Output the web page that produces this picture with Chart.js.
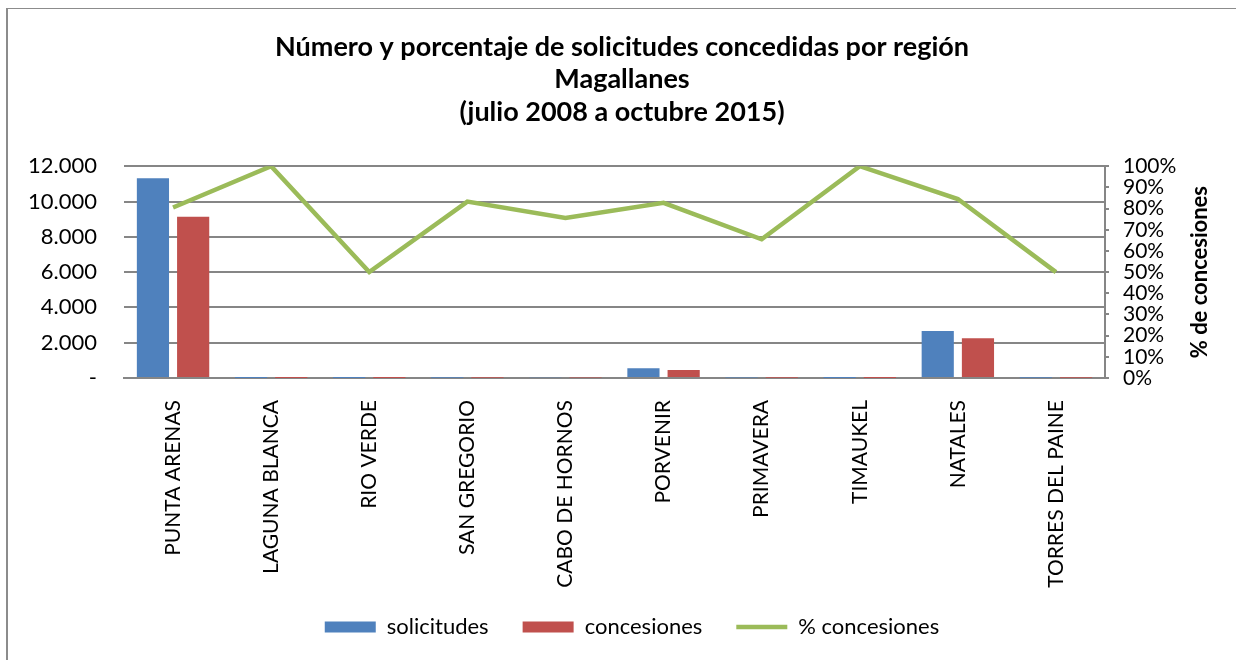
<!DOCTYPE html>
<html>
<head>
<meta charset="utf-8">
<script src="https://cdn.jsdelivr.net/npm/chart.js@4"></script>
<style>
    html, body { margin: 0; padding: 0; background: #fff; }
    #wrap { position: relative; width: 1236px; height: 660px; overflow: hidden; }
    #frame { position: absolute; left: 6px; top: 8px; width: 1300px; height: 700px;
             border-left: 2px solid #8c8c8c; border-top: 1px solid #8c8c8c; pointer-events: none; }
    canvas { position: absolute; left: 0; top: 0; }
</style>
</head>
<body>
<div id="wrap">
    <canvas id="chart" width="1236" height="660"></canvas>
    <div id="frame"></div>
</div>
<script>
const regiones = ['PUNTA ARENAS', 'LAGUNA BLANCA', 'RIO VERDE', 'SAN GREGORIO', 'CABO DE HORNOS',
    'PORVENIR', 'PRIMAVERA', 'TIMAUKEL', 'NATALES', 'TORRES DEL PAINE'];
const solicitudes = [11320, 4, 2, 12, 41, 550, 29, 5, 2660, 20];
const concesiones = [9130, 4, 1, 10, 31, 455, 19, 5, 2250, 10];
const pctConcesiones = [80.5, 100, 50, 83.3, 75.6, 82.7, 65.5, 100, 84.5, 50];

const FONT = 'Lato, "Open Sans", sans-serif';
Chart.defaults.font.family = FONT;
Chart.defaults.color = '#000';

// axis title on the right reads bottom-to-top, Chart.js would rotate it the other way
const rightTitle = {
    id: 'rightTitle',
    afterDraw(chart) {
        const { ctx, chartArea } = chart;
        ctx.save();
        ctx.translate(1200, (chartArea.top + chartArea.bottom) / 2);
        ctx.rotate(-Math.PI / 2);
        ctx.font = 'bold 22px ' + FONT;
        ctx.fillStyle = '#000';
        ctx.textAlign = 'center';
        ctx.textBaseline = 'middle';
        ctx.fillText('% de concesiones', 0, 0);
        ctx.restore();
    }
};

// legend in the original sits a little right of centre and a bit higher
const legendShift = {
    id: 'legendShift',
    afterLayout(chart) {
        chart.legend.left += 10;
        chart.legend.right += 10;
        chart.legend.top -= 8;
        chart.legend.bottom -= 8;
    }
};

function miles(v) {
    if (v === 0) return '-';
    return String(v).replace(/\B(?=(\d{3})+(?!\d))/g, '.');
}

new Chart(document.getElementById('chart').getContext('2d'), {
    data: {
        labels: regiones,
        datasets: [{
            type: 'line',
            label: '% concesiones',
            data: pctConcesiones,
            yAxisID: 'y1',
            borderColor: '#9BBB59',
            backgroundColor: '#9BBB59',
            borderWidth: 4.5,
            pointRadius: 0,
            pointStyle: 'line',
            tension: 0,
            order: 0
        }, {
            type: 'bar',
            label: 'solicitudes',
            data: solicitudes,
            yAxisID: 'y',
            backgroundColor: '#4F81BD',
            pointStyle: 'rect',
            barPercentage: 0.8,
            categoryPercentage: 0.82,
            order: 1
        }, {
            type: 'bar',
            label: 'concesiones',
            data: concesiones,
            yAxisID: 'y',
            backgroundColor: '#C0504D',
            pointStyle: 'rect',
            barPercentage: 0.8,
            categoryPercentage: 0.82,
            order: 2
        }]
    },
    options: {
        responsive: false,
        animation: false,
        layout: { padding: { left: 8, right: 0, top: 0, bottom: 4 } },
        plugins: {
            title: {
                display: true,
                text: ['Número y porcentaje de solicitudes concedidas por región', 'Magallanes', '(julio 2008 a octubre 2015)'],
                font: { size: 27, weight: 'bold', lineHeight: 1.2 },
                color: '#000',
                padding: { top: 31, bottom: 38 }
            },
            legend: {
                position: 'bottom',
                labels: {
                    usePointStyle: true,
                    pointStyleWidth: 51,
                    boxHeight: 11,
                    padding: 34,
                    font: { size: 22 },
                    color: '#000',
                    sort: (a, b) => {
                        const rank = { 'solicitudes': 0, 'concesiones': 1, '% concesiones': 2 };
                        return rank[a.text] - rank[b.text];
                    }
                }
            },
            tooltip: { enabled: false }
        },
        scales: {
            x: {
                grid: { display: false, drawTicks: false },
                border: { display: true, color: '#868686', width: 2 },
                ticks: { minRotation: 90, maxRotation: 90, padding: 22, font: { size: 21 }, autoSkip: false },
                afterFit(scale) { scale.height = 212; }
            },
            y: {
                position: 'left',
                min: 0,
                max: 12000,
                ticks: { stepSize: 2000, padding: 27, font: { size: 22 }, callback: v => miles(v) },
                grid: { color: '#868686', lineWidth: 2, drawTicks: false },
                border: { display: false },
                afterFit(scale) { scale.width = 116; }
            },
            y1: {
                position: 'right',
                min: 0,
                max: 100,
                ticks: { stepSize: 10, padding: 14, autoSkip: false, font: { size: 21 }, callback: v => v + '%' },
                grid: { drawOnChartArea: false, drawTicks: true, tickLength: 4, color: '#868686', lineWidth: 2 },
                border: { display: true, color: '#868686', width: 2 },
                afterFit(scale) { scale.width = 131; }
            }
        }
    },
    plugins: [rightTitle, legendShift]
});
</script>
</body>
</html>
